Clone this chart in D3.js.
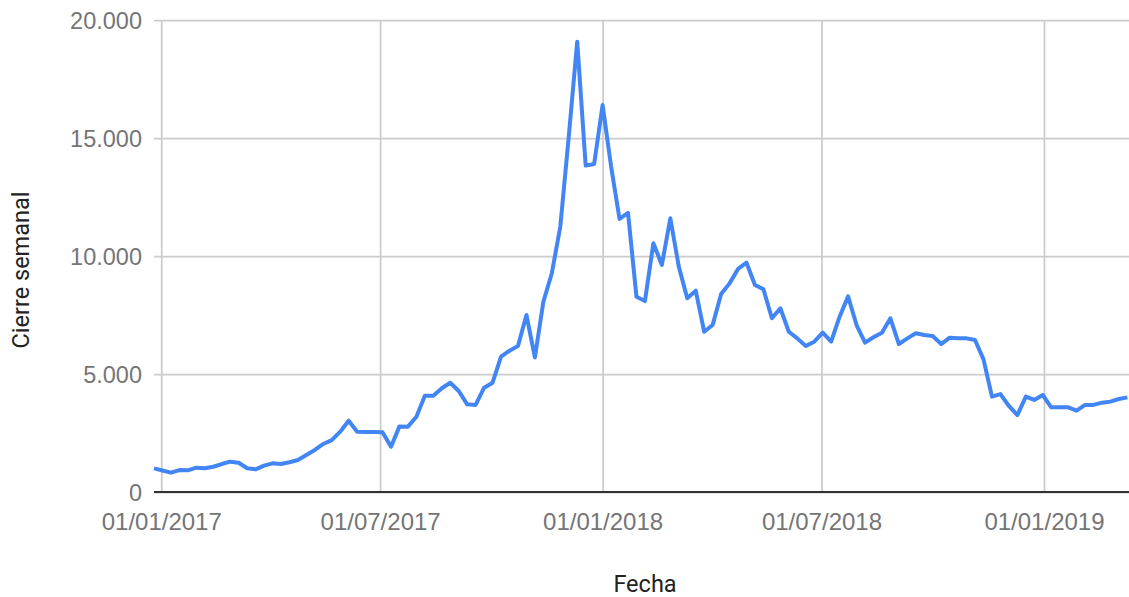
<!DOCTYPE html>
<html>
<head>
<meta charset="utf-8">
<script src="https://cdn.jsdelivr.net/npm/d3@7"></script>
<style>
  html, body { margin: 0; padding: 0; background: #fff; }
  svg { display: block; font-family: Roboto, "Noto Sans", Arial, sans-serif; }
</style>
</head>
<body>
<svg id="chart" width="1129" height="597"></svg>
<script>
// ---- Data ----
const weekDates = [
  "2016-12-26",
  "2017-01-02","2017-01-09","2017-01-16","2017-01-23","2017-01-30","2017-02-06","2017-02-13","2017-02-20","2017-02-27",
  "2017-03-06","2017-03-13","2017-03-20","2017-03-27","2017-04-03","2017-04-10","2017-04-17","2017-04-24","2017-05-01",
  "2017-05-08","2017-05-15","2017-05-22","2017-05-29","2017-06-05","2017-06-12","2017-06-19","2017-06-26","2017-07-03",
  "2017-07-10","2017-07-17","2017-07-24","2017-07-31","2017-08-07","2017-08-14","2017-08-21","2017-08-28","2017-09-04",
  "2017-09-11","2017-09-18","2017-09-25","2017-10-02","2017-10-09","2017-10-16","2017-10-23","2017-10-30","2017-11-06",
  "2017-11-13","2017-11-20","2017-11-27","2017-12-04","2017-12-11","2017-12-18","2017-12-25",
  "2018-01-01","2018-01-08","2018-01-15","2018-01-22","2018-01-29","2018-02-05","2018-02-12","2018-02-19","2018-02-26",
  "2018-03-05","2018-03-12","2018-03-19","2018-03-26","2018-04-02","2018-04-09","2018-04-16","2018-04-23","2018-04-30",
  "2018-05-07","2018-05-14","2018-05-21","2018-05-28","2018-06-04","2018-06-11","2018-06-18","2018-06-25","2018-07-02",
  "2018-07-09","2018-07-16","2018-07-23","2018-07-30","2018-08-06","2018-08-13","2018-08-20","2018-08-27","2018-09-03",
  "2018-09-10","2018-09-17","2018-09-24","2018-10-01","2018-10-08","2018-10-15","2018-10-22","2018-10-29","2018-11-05",
  "2018-11-12","2018-11-19","2018-11-26","2018-12-03","2018-12-10","2018-12-17","2018-12-24","2018-12-31",
  "2019-01-07","2019-01-14","2019-01-21","2019-01-28","2019-02-04","2019-02-11","2019-02-18","2019-02-25","2019-03-04",
  "2019-03-11"
];

const weeklyClose = [
  1000,
  910, 820, 930, 920, 1030, 1005, 1070, 1185, 1285,
  1240, 1005, 960, 1115, 1215, 1185, 1260, 1355, 1570,
  1780, 2035, 2200, 2555, 3020, 2555, 2545, 2540, 2530,
  1920, 2780, 2770, 3190, 4080, 4080, 4395, 4630, 4280,
  3715, 3690, 4420, 4630, 5735, 5985, 6185, 7500, 5700,
  8060, 9270, 11240, 15060, 19080, 13830, 13900,
  16400, 13800, 11570, 11830, 8275, 8090, 10540, 9620, 11600,
  9550, 8210, 8530, 6790, 7075, 8390, 8840, 9450, 9715,
  8770, 8590, 7360, 7785, 6790, 6510, 6185, 6370, 6750,
  6370, 7430, 8290, 7075, 6330, 6555, 6750, 7360, 6270,
  6510, 6725, 6650, 6610, 6270, 6540, 6510, 6510, 6440,
  5620, 4040, 4150, 3645, 3260, 4040, 3900, 4110,
  3590, 3590, 3590, 3445, 3690, 3690, 3785, 3830, 3940,
  4010
];

const yTickValues = [0, 5000, 10000, 15000, 20000];
const xTickDates = ["2017-01-01", "2017-07-01", "2018-01-01", "2018-07-01", "2019-01-01"];
const xTitle = "Fecha";
const yTitle = "Cierre semanal";

// ---- Chart ----
(function () {
  const parse = d3.utcParse("%Y-%m-%d");
  const data = weekDates.map((d, i) => ({ date: parse(d), value: weeklyClose[i] }));

  const svg = d3.select("#chart");
  const mLeft = 154, mRight = 1127.4, mTop = 20, mBottom = 492;

  const x = d3.scaleUtc()
    .domain(d3.extent(data, d => d.date))
    .range([mLeft, mRight]);
  const y = d3.scaleLinear().domain([0, 20000]).range([mBottom, mTop]);

  const es = d3.formatLocale({ decimal: ",", thousands: ".", grouping: [3], currency: ["", " €"] });
  const fmtY = es.format(",d");
  const fmtX = d3.utcFormat("%d/%m/%Y");

  // horizontal gridlines + y labels
  const yAxis = d3.axisLeft(y).tickValues(yTickValues).tickFormat(fmtY)
    .tickSize(-(1129 - mLeft)).tickPadding(14);
  const gy = svg.append("g").attr("transform", `translate(${mLeft},0)`).call(yAxis);
  gy.select(".domain").remove();
  gy.selectAll(".tick line").attr("stroke", "#cccccc").attr("stroke-width", 1.75);
  gy.selectAll(".tick text").attr("fill", "#757575").attr("font-size", 23.5)
    .attr("x", -12).attr("dy", "0.35em");

  // vertical gridlines + x labels
  const xAxis = d3.axisBottom(x).tickValues(xTickDates.map(parse)).tickFormat(fmtX)
    .tickSize(-(mBottom - mTop)).tickPadding(0);
  const gx = svg.append("g").attr("transform", `translate(0,${mBottom})`).call(xAxis);
  gx.select(".domain").remove();
  gx.selectAll(".tick line").attr("stroke", "#cccccc").attr("stroke-width", 1.75);
  gx.selectAll(".tick text").attr("fill", "#757575").attr("font-size", 24)
    .attr("y", 38).attr("dy", 0);

  // baseline
  svg.append("line")
    .attr("x1", mLeft).attr("x2", 1129)
    .attr("y1", y(0)).attr("y2", y(0))
    .attr("stroke", "#333333").attr("stroke-width", 2);

  // series line
  const line = d3.line().x(d => x(d.date)).y(d => y(d.value));
  svg.append("path")
    .datum(data)
    .attr("fill", "none")
    .attr("stroke", "#4285f4")
    .attr("stroke-width", 4)
    .attr("stroke-linejoin", "round")
    .attr("d", line);

  // axis titles
  svg.append("text")
    .attr("x", 645).attr("y", 592)
    .attr("text-anchor", "middle")
    .attr("font-size", 23.5)
    .attr("fill", "#222222")
    .text(xTitle);

  svg.append("text")
    .attr("transform", "translate(29,270) rotate(-90)")
    .attr("text-anchor", "middle")
    .attr("font-size", 23.5)
    .attr("fill", "#222222")
    .text(yTitle);
})();
</script>
</body>
</html>
